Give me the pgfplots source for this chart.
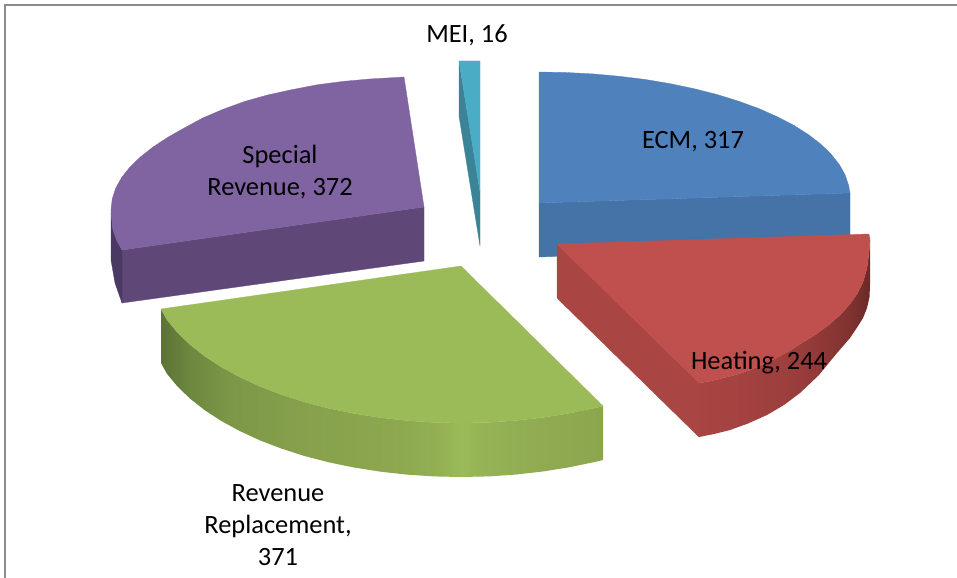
\documentclass[border=0pt]{standalone}
\usepackage{pgfplots}
\pgfplotsset{compat=1.18}
\usepackage{fontspec}
\setmainfont{Carlito}
\definecolor{frame}{HTML}{8C8C8C}
\definecolor{ecmtop}{HTML}{4F81BD}
\definecolor{ecmside}{HTML}{4673A7}
\definecolor{heattop}{HTML}{C0504D}
\definecolor{heatside}{HTML}{A94543}
\definecolor{greentop}{HTML}{9BBB59}
\definecolor{purptop}{HTML}{8064A2}
\definecolor{purpside}{HTML}{5F4878}
\definecolor{purpdark}{HTML}{4A3A63}
\definecolor{meitop}{HTML}{4BACC6}
\definecolor{meiside}{HTML}{3B8397}
% gradients of the curved sides, 25bp..75bp spans the side's width
\definecolor{g1}{HTML}{5B7336}\definecolor{g2}{HTML}{6D883F}\definecolor{g3}{HTML}{7C9747}
\definecolor{g4}{HTML}{86A04C}\definecolor{g5}{HTML}{8DA84F}\definecolor{g6}{HTML}{94B053}
\definecolor{g7}{HTML}{9BBB59}\definecolor{g8}{HTML}{96B355}\definecolor{g9}{HTML}{90AB51}
\definecolor{g10}{HTML}{8BA64D}
\definecolor{r1}{HTML}{A84543}\definecolor{r2}{HTML}{A1413F}\definecolor{r3}{HTML}{983D3B}
\definecolor{r4}{HTML}{8B3735}\definecolor{r5}{HTML}{7F3230}\definecolor{r6}{HTML}{6B2927}
\pgfdeclarehorizontalshading{greenside}{100bp}{color(0bp)=(g1); color(25bp)=(g1); color(28.3bp)=(g2);
  color(32.8bp)=(g3); color(40.7bp)=(g4); color(52bp)=(g5); color(56.6bp)=(g6); color(59bp)=(g7);
  color(61.1bp)=(g8); color(67.9bp)=(g9); color(75bp)=(g10); color(100bp)=(g10)}
\pgfdeclarehorizontalshading{redside}{100bp}{color(0bp)=(r1); color(25bp)=(r1); color(42.8bp)=(r2);
  color(54.5bp)=(r3); color(63.3bp)=(r4); color(69.2bp)=(r5); color(75bp)=(r6); color(100bp)=(r6)}
\pgfplotsset{
  face/.style={fill=#1,draw=#1,line width=0.3pt},
}
\begin{document}
\begin{tikzpicture}
\begin{axis}[
    width=957bp, height=578bp, scale only axis,
    xmin=0, xmax=957, ymin=0, ymax=578,
    y dir=reverse,
    hide axis,
]
% page background keeps the bounding box at full size
\addplot[fill=white,draw=none] coordinates {(0,0)(957,0)(957,578)(0,578)} --cycle;
% frame (top and left only)
\addplot[frame,line width=2bp] coordinates {(5,578)(5,5)(957,5)};

% ECM
\addplot[face=ecmside] coordinates {(539,203)(850,193)(850,247)(539,257)} --cycle;
\addplot[face=ecmtop] coordinates {(539,72)(566.1,72.5)(593,73.9)(619.5,76.3)(645.4,79.5)(670.4,83.7)(694.5,88.8)(717.4,94.6)(738.9,101.3)(758.9,108.6)(777.2,116.7)(793.8,125.3)(808.3,134.5)(820.9,144.2)(831.2,154.3)(839.4,164.7)(845.3,175.3)(848.8,186.1)(850,193)(539,203)} --cycle;

% MEI
\addplot[face=meiside] coordinates {(459,61)(480,192)(480,246)(459,116)} --cycle;
\addplot[face=meitop] coordinates {(459,61)(480,61)(480,192)} --cycle;

% Special Revenue
\addplot[face=purpside] coordinates {(122,250)(424,207)(424,261)(122,303)} --cycle;
\addplot[face=purpdark] coordinates {(111,213)(113,230)(117,241)(122,250)(122,303)(115,283)(111,260)} --cycle;
\addplot[face=purptop] coordinates {(404,77)(369.7,79)(343,81.4)(317,84.8)(291.7,89.7)(267.5,95)(244.5,101.5)(222.8,109.4)(202.7,118)(184.2,128)(167.6,137.4)(153,147)(140.3,157)(130,167)(121.7,177.4)(115.8,188)(112.2,199)(111,210)(111,213)(113,230)(117,241)(122,250)(424,207)} --cycle;

% Revenue Replacement
\addplot[shade,shading=greenside,draw=none] coordinates {(161,309)(166.9,319.7)(177.3,332.3)(189.9,344.5)(204.6,356.1)(221.2,366.9)(239.7,377)(259.8,386.3)(281.5,394.6)(304.5,402)(328.7,408.3)(354,413.5)(380,417.6)(406.7,420.6)(433.7,422.4)(461,423)(488.3,422.4)(515.3,420.6)(542,417.6)(568,413.5)(593.3,408.3)(603,406)
  (603,460)(593.3,462.3)(568,467.5)(542,471.6)(515.3,474.6)(488.3,476.4)(461,477)(433.7,476.4)(406.7,474.6)(380,471.6)(354,467.5)(328.7,462.3)(304.5,456)(281.5,448.6)(259.8,440.3)(239.7,431)(221.2,420.9)(204.6,410.1)(189.9,398.5)(177.3,386.3)(166.9,373.7)(161,363)} --cycle;
\addplot[face=greentop] coordinates {(461,266)(603,406)(593.3,408.3)(568,413.5)(542,417.6)(515.3,420.6)(488.3,422.4)(461,423)(433.7,422.4)(406.7,420.6)(380,417.6)(354,413.5)(328.7,408.3)(304.5,402)(281.5,394.6)(259.8,386.3)(239.7,377)(221.2,366.9)(204.6,356.1)(189.9,344.5)(177.3,332.3)(166.9,319.7)(161,309)} --cycle;

% Heating
\addplot[face=heatside] coordinates {(557,244)(699,383)(699,437)(557,298)} --cycle;
\addplot[shade,shading=redside,draw=none] coordinates {(699,383)(711,381)(723,378)(737,374.5)(750,370)(765,364)(780,356)(790,350.5)(800,344)(815,335)(830,324)(841,314)(850,304)(857,294)(863,282)(867,268)(869,253)(870,240)
  (870,285)(869.5,297)(867,308)(863,318)(858,326)(850,338)(837,353)(819,375)(800,393)(784,405)(767,415)(748,423.5)(730,430)(714,434)(699,437)} --cycle;
\addplot[face=heattop] coordinates {(557,244)(869,234)(870,240)(869,253)(867,268)(863,282)(857,294)(850,304)(841,314)(830,324)(815,335)(800,344)(790,350.5)(780,356)(765,364)(750,370)(737,374.5)(723,378)(711,381)(699,383)} --cycle;

% data labels
\begin{scope}[every node/.style={align=center,text=black,inner sep=0pt,font=\fontsize{26.5}{32.5}\selectfont}]
\node at (axis cs:693,141.5) {ECM, 317};
\node at (axis cs:467,35) {MEI, 16};
\node at (axis cs:280,172) {Special\\Revenue, 372};
\node at (axis cs:759,362.5) {Heating, 244};
\node at (axis cs:278,525) {Revenue\\Replacement,\\371};
\end{scope}
\end{axis}
\end{tikzpicture}
\end{document}
